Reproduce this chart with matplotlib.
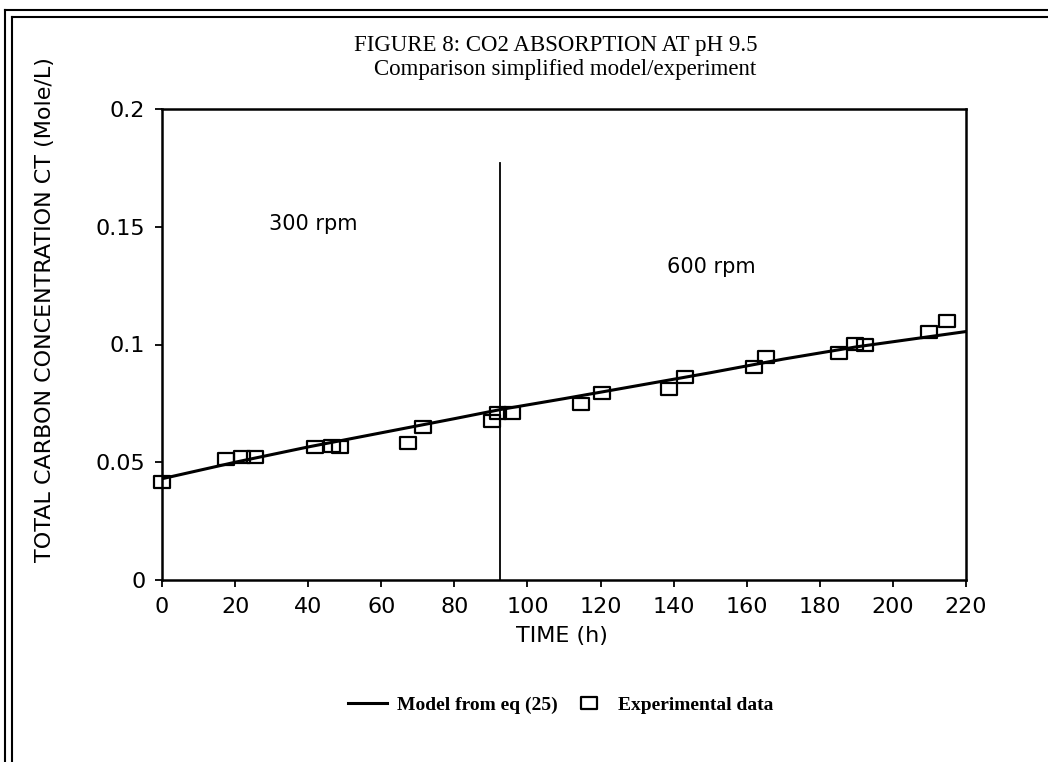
import matplotlib
matplotlib.use("Agg")
import matplotlib.pyplot as plt
from matplotlib.lines import Line2D
from matplotlib.path import Path
import numpy as np

# ---- data ----
exp_time = [0, 17.4, 21.8, 25.4, 41.9, 46.4, 48.7, 67.2, 71.5, 90.2, 92.0, 95.9,
            114.6, 120.3, 138.7, 143.1, 161.9, 165.3, 185.3, 189.6, 192.4, 209.9, 214.7]
exp_ct = [0.0417, 0.0512, 0.0521, 0.0524, 0.0566, 0.0569, 0.0566, 0.0580, 0.0648,
          0.0677, 0.0711, 0.0708, 0.0747, 0.0795, 0.0810, 0.0861, 0.0906, 0.0948,
          0.0965, 0.1002, 0.0997, 0.1053, 0.1098]
model_time = [0, 20, 40, 60, 80, 93, 110, 130, 150, 170, 190, 220]
model_ct = [0.0430, 0.0500, 0.0565, 0.0625, 0.0685, 0.0725, 0.0770, 0.0825,
            0.0880, 0.0938, 0.0990, 0.1055]
switch_time = 92.5
switch_top = 0.177
xticks = list(range(0, 221, 20))
yticks = [0, 0.05, 0.1, 0.15, 0.2]
ytick_labels = ["0", "0.05", "0.1", "0.15", "0.2"]

W, H = 1048, 762
fig = plt.figure(figsize=(W / 100, H / 100), dpi=100)
fig.patch.set_facecolor("white")
ax = fig.add_axes([162 / W, 1 - 580 / H, (966 - 162) / W, (580 - 109) / H])

sans = "DejaVu Sans"
serif = "Liberation Serif"

# rectangular hollow marker
rect = Path([(-0.6, -0.5), (0.6, -0.5), (0.6, 0.5), (-0.6, 0.5), (-0.6, -0.5)],
            [Path.MOVETO, Path.LINETO, Path.LINETO, Path.LINETO, Path.CLOSEPOLY])

ax.plot(model_time, model_ct, color="black", lw=2.2, label="Model from eq (25)", zorder=3)
ax.plot(exp_time, exp_ct, linestyle="none", marker=rect, markersize=11,
        markerfacecolor="none", markeredgecolor="black", markeredgewidth=1.6,
        label="Experimental data", zorder=4, clip_on=False)
ax.plot([switch_time, switch_time], [0, switch_top], color="black", lw=1.3, zorder=2)

ax.text(41.3, 0.151, "300 rpm", fontsize=15, family=sans, ha="center", va="center")
ax.text(150.4, 0.133, "600 rpm", fontsize=15, family=sans, ha="center", va="center")

ax.set_xlim(0, 220)
ax.set_ylim(0, 0.2)
ax.set_xticks(xticks)
ax.set_xticklabels([str(t) for t in xticks], fontsize=16, family=sans)
ax.set_yticks(yticks)
ax.set_yticklabels(ytick_labels, fontsize=16, family=sans)
ax.tick_params(direction="out", length=5, width=1.3, pad=7, color="black")
for s in ax.spines.values():
    s.set_linewidth(1.8)

fig.text(45 / W, 1 - 310 / H, "TOTAL CARBON CONCENTRATION CT (Mole/L)", rotation=90,
         fontsize=16, family=sans, ha="center", va="center")
fig.text(562 / W, 1 - 636 / H, "TIME (h)", fontsize=16, family=sans, ha="center", va="center")

fig.text(556 / W, 1 - 45 / H, "FIGURE 8: CO2 ABSORPTION AT pH 9.5", fontsize=16.5,
         family=serif, ha="center", va="center")
fig.text(565 / W, 1 - 69 / H, "Comparison simplified model/experiment", fontsize=16.5,
         family=serif, ha="center", va="center")

leg = fig.legend(loc="center", bbox_to_anchor=(561 / W, 1 - 705 / H), ncol=2, frameon=False,
                 prop={"family": serif, "weight": "bold", "size": 14},
                 handlelength=2.0, columnspacing=0.6, handletextpad=0.5)
for h in leg.legend_handles:
    if h.get_marker() not in (None, "None", ""):
        h.set_markersize(11)

# double frame lines
for x in (5, 12):
    fig.add_artist(Line2D([x / W, x / W], [0, 1 - (10 if x == 5 else 17) / H],
                          transform=fig.transFigure, color="black", lw=1.5))
for y in (10, 17):
    fig.add_artist(Line2D([(5 if y == 10 else 12) / W, 1], [1 - y / H, 1 - y / H],
                          transform=fig.transFigure, color="black", lw=1.5))

fig.savefig("out.png", dpi=100)
